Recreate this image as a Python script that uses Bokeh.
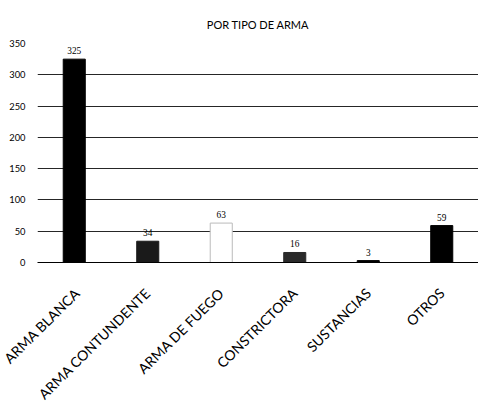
from bokeh.plotting import figure
from bokeh.models import ColumnDataSource, LabelSet, FactorRange
from bokeh.embed import file_html
from bokeh.resources import INLINE

categories = ["ARMA BLANCA", "ARMA CONTUNDENTE", "ARMA DE FUEGO", "CONSTRICTORA", "SUSTANCIAS", "OTROS"]
values = [325, 34, 63, 16, 3, 59]
colors = ["#000000", "#1a1a1a", "#ffffff", "#2a2a2a", "#000000", "#000000"]
outline = ["#000000", "#1a1a1a", "#bbbbbb", "#2a2a2a", "#000000", "#000000"]
y_ticks = [0, 50, 100, 150, 200, 250, 300, 350]

FONT = "Lato"

src = ColumnDataSource(dict(cat=categories, val=values, color=colors, line=outline,
                            lab=[str(v) for v in values]))

p = figure(x_range=FactorRange(*categories, range_padding=0), y_range=(0, 350),
           width=478, height=412, output_backend="svg", toolbar_location=None,
           min_border_left=37, min_border_right=0, min_border_top=43, min_border_bottom=150,
           title="POR TIPO DE ARMA")
p.outline_line_color = None
p.background_fill_color = "white"
p.border_fill_color = "white"

p.title.align = "center"
p.title.text_font_size = "11px"
p.title.text_font = FONT
p.title.text_font_style = "normal"
p.title.text_color = "black"
p.title.standoff = 26

p.vbar(x="cat", top="val", width=0.3, source=src, fill_color="color", line_color="line",
       line_width=1)

p.add_layout(LabelSet(x="cat", y="val", text="lab", source=src, y_offset=5,
                      text_align="center", text_baseline="bottom",
                      text_font_size="7pt", text_color="black", text_font=FONT))

# y axis
p.yaxis.ticker = y_ticks
p.yaxis.axis_line_color = None
p.yaxis.major_tick_line_color = None
p.yaxis.minor_tick_line_color = None
p.yaxis.major_label_text_font_size = "7pt"
p.yaxis.major_label_text_font = FONT
p.yaxis.major_label_text_color = "black"
p.yaxis.major_label_standoff = 6

# x axis
p.xaxis.axis_line_color = "black"
p.xaxis.major_tick_line_color = None
p.xaxis.minor_tick_line_color = None
p.xaxis.major_label_orientation = 0.78
p.xaxis.major_label_text_font_size = "14px"
p.xaxis.major_label_text_font = FONT
p.xaxis.major_label_text_color = "black"
p.xaxis.major_label_standoff = 22

p.xgrid.grid_line_color = None
p.ygrid.ticker = y_ticks
p.ygrid.grid_line_color = "black"
p.ygrid.grid_line_width = 1
p.ygrid.grid_line_alpha = 0.85

open("out.html", "w").write(file_html(p, INLINE))
